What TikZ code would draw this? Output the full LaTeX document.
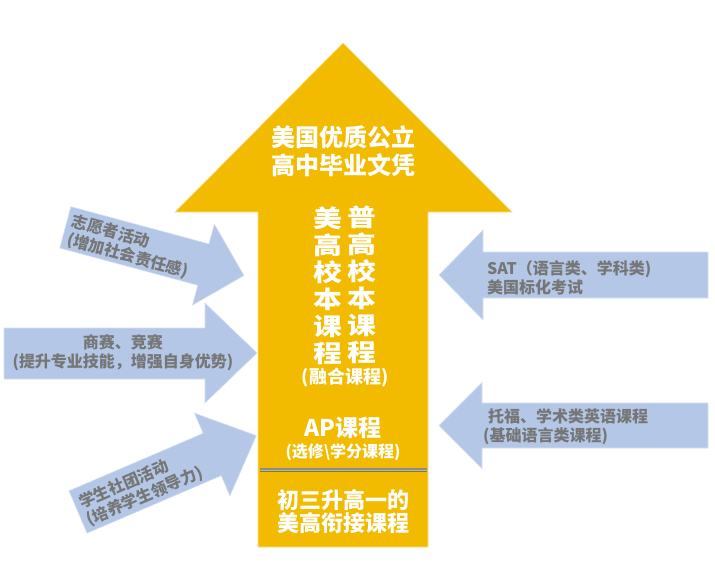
\documentclass[tikz,border=0pt]{standalone}
\usepackage{fontspec}
\setmainfont{Noto Sans CJK SC}
\definecolor{gold}{RGB}{242,187,0}
\definecolor{lblue}{RGB}{180,199,231}
\definecolor{tgray}{RGB}{118,118,118}
\definecolor{sepblue}{RGB}{79,121,192}
\definecolor{sepgray}{RGB}{140,140,140}
\tikzset{
  goldarrow/.style={fill=gold, draw=gold!45!white, line width=0.7pt},
  bluearrow/.style={fill=lblue, draw=lblue!55!white, line width=0.6pt},
  wtext/.style={text=white, align=center, inner sep=0pt},
  btext/.style={text=tgray, inner sep=0pt, font=\bfseries\fontsize{16pt}{18.8pt}\selectfont},
  coltext/.style={wtext, xscale=1.2, font=\bfseries\fontsize{24pt}{27pt}\selectfont},
}
\begin{document}
\begin{tikzpicture}[x=1pt,y=1pt]
\useasboundingbox (0,0) rectangle (715,-584);
\fill[white] (0,0) rectangle (715,-584);

% main arrow
\draw[goldarrow] (343,-43) -- (512,-212) -- (428,-212) -- (428,-547) -- (258,-547) -- (258,-212) -- (175,-212) -- cycle;
\draw[sepgray, line width=1.3pt] (260,-469) -- (427,-469);
\draw[sepblue, line width=1.3pt] (260,-471.3) -- (427,-471.3);

\node[wtext, font=\bfseries\fontsize{24pt}{28pt}\selectfont] (title) at (343,-151) {美国优质公立\\高中毕业文凭};
\node[coltext] (colA) at (328.3,-285.3) {美\\高\\校\\本\\课\\程};
\node[coltext] (colB) at (361.7,-285.3) {普\\高\\校\\本\\课\\程};
\node[wtext, font=\bfseries\fontsize{18pt}{20pt}\selectfont] (fuse) at (345,-378) {(融合课程)};
\node[wtext, font=\bfseries\fontsize{23pt}{26pt}\selectfont] (ap) at (343,-428) {AP课程};
\node[wtext, font=\bfseries\fontsize{16pt}{18pt}\selectfont] (apsub) at (343,-452) {(选修\textbackslash 学分课程)};
\node[wtext, font=\bfseries\fontsize{22pt}{23.3pt}\selectfont] (bridge) at (343,-511.5) {初三升高一的\\美高衔接课程};

% left arrows
\begin{scope}[shift={(65.35,-227.35)}, rotate=-15.1]
  \draw[bluearrow] (0,21.4) -- (143,21.4) -- (143,42) -- (185,0) -- (143,-42) -- (143,-21.4) -- (0,-21.4) -- cycle;
  \node[btext, align=left, anchor=west, transform shape] (volunteer) at (5,-2) {志愿者活动\\(增加社会责任感)};
\end{scope}

\draw[bluearrow] (4,-328) -- (205,-328) -- (205,-303) -- (257,-353) -- (205,-403) -- (205,-379) -- (4,-379) -- cycle;
\node[btext, align=center] (compete) at (123,-352.5) {商赛、竞赛\\(提升专业技能，增强自身优势)};

\begin{scope}[shift={(78,-512)}, rotate=23.2]
  \draw[bluearrow] (0,23) -- (146,23) -- (146,45) -- (194,0) -- (146,-45) -- (146,-23) -- (0,-23) -- cycle;
  \node[btext, align=left, anchor=west, transform shape] (club) at (5,-2.5) {学生社团活动\\(培养学生领导力)};
\end{scope}

% right arrows
\draw[bluearrow] (708,-252) -- (483,-252) -- (483,-230) -- (439,-275) -- (483,-320) -- (483,-298) -- (708,-298) -- cycle;
\node[btext, align=left, anchor=west] (sat) at (487,-277.5) {SAT（语言类、学科类)\\美国标化考试};

\draw[bluearrow] (708,-403) -- (482,-403) -- (482,-382.5) -- (439,-425.5) -- (482,-468.5) -- (482,-448) -- (708,-448) -- cycle;
\node[btext, align=left, anchor=west] (toefl) at (483,-426.5) {\hspace*{5pt}托福、学术类英语课程\\(基础语言类课程)};
\end{tikzpicture}
\end{document}
